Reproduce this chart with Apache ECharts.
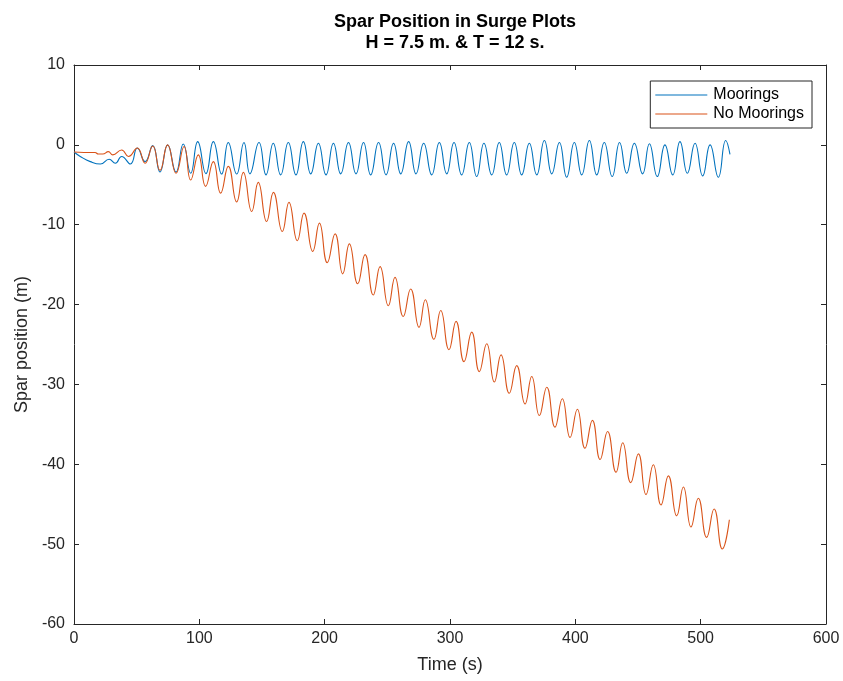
<!DOCTYPE html>
<html>
<head>
<meta charset="utf-8">
<script src="https://cdn.jsdelivr.net/npm/echarts@6/dist/echarts.min.js"></script>
<style>
  html, body { margin: 0; padding: 0; background: #fff; }
  #chart { width: 843px; height: 681px; }
</style>
</head>
<body>
<div id="chart"></div>
<script>
// Surge response of the spar: [time (s), position (m)] at the turning points of each swing.
const mooringsSeries = [
  [0, -0.9], [5, -1.45], [13, -2.1], [21, -2.4], [28, -1.8], [33, -2.3], [38, -1.45], [45, -2.4],
  [50.5, -0.4], [56.7, -2.1], [62.8, -0.1], [68.6, -3.4], [74.7, 0.0], [81.4, -3.4], [87.2, 0.1],
  [93.1, -3.55], [98.7, 0.4], [105.3, -3.6], [111.2, 0.4], [117.8, -3.65], [123.1, 0.3], [129.8, -3.65],
  [135.6, 0.29], [140.4, -3.63], [147.6, 0.29], [153.2, -3.76], [159, 0.21], [164.9, -3.76],
  [171, 0.29], [177.1, -3.76], [183, 0.41], [188.9, -3.63], [195, 0.21], [201.1, -3.76],
  [207, 0.21], [212.8, -3.63], [219, 0.29], [225, -3.63], [231, 0.29], [236.7, -3.76],
  [243, 0.29], [249, -3.76], [255, 0.21], [260.7, -3.63], [267, 0.41], [272.9, -3.63],
  [279, 0.21], [285.4, -3.76], [291.5, 0.29], [297.4, -3.63], [303.2, 0.29], [309.3, -3.76],
  [315.4, 0.29], [321.3, -3.97], [327.1, 0.21], [333.3, -3.76], [339.3, 0.29], [345.2, -3.76],
  [351.3, 0.29], [357.2, -3.76], [363.3, 0.21], [369.2, -3.76], [375.3, 0.54], [381.2, -3.63],
  [387.3, 0.29], [393.1, -4.05], [399.2, 0.29], [405.1, -3.76], [411.2, 0.54], [417.1, -3.76],
  [423.1, 0.29], [429.4, -3.97], [435.3, 0.29], [441, -3.55], [447.1, 0.21], [453.7, -3.63],
  [459.1, 0.13], [465.4, -3.97], [471.5, 0.0], [477.7, -3.76], [483.5, 0.41], [489.4, -3.55],
  [495.5, 0.21], [501.6, -3.88], [507.5, 0.0], [514.1, -4.05], [520, 0.54], [523.4, -1.2]
];

const noMooringsSeries = [
  [0, -0.9], [8, -0.95], [16.8, -0.95], [19.4, -1.15], [23, -1.15], [27.4, -0.85], [30.9, -1.25],
  [38, -0.65], [43.4, -1.45], [50.5, -0.4], [56.7, -2.3], [62.8, -0.15], [68.6, -3.2], [74.7, 0.0],
  [81.4, -3.55], [87.8, -0.2], [93.1, -4.4], [99.2, -1.25], [105, -5.2], [111.2, -2.1], [117, -6.05],
  [123.1, -2.7], [129.8, -7.15], [135.1, -3.45], [141.8, -8.35], [147, -4.7], [153.7, -9.6],
  [159.1, -5.95], [166.2, -10.85], [171.5, -7.2], [178.2, -12.0], [183.5, -8.55], [190.5, -13.35],
  [195.8, -9.8], [202.1, -14.75], [208.3, -11.15], [214.4, -16.15], [219.7, -12.4], [226.4, -17.4],
  [232.2, -13.75], [238.8, -18.8], [244.2, -15.25], [250.8, -20.15], [256.1, -16.6], [262.7, -21.5],
  [268.6, -18.05], [275.3, -22.85], [280.3, -19.4], [287.2, -24.35], [292.6, -20.75], [299.2, -25.65],
  [304.8, -22.1], [311.2, -27.15], [317.3, -23.45], [323.4, -28.4], [329.3, -24.9], [335.4, -29.7],
  [340.7, -26.3], [347.3, -31.1], [353.2, -27.65], [359.9, -32.45], [365.2, -29.0], [371.3, -33.9],
  [377.2, -30.35], [383.8, -35.35], [389.6, -31.8], [395.8, -36.65], [401.6, -33.1], [407.7, -38.0],
  [413.6, -34.5], [419.8, -39.4], [425.7, -35.9], [432.5, -41.0], [437.8, -37.3], [444.2, -42.3],
  [450.3, -38.7], [456.4, -43.8], [462.2, -40.05], [468.4, -45.1], [474.2, -41.45], [480.9, -46.45],
  [486.2, -42.85], [492.3, -47.85], [498.1, -44.25], [504.8, -49.15], [510.7, -45.6], [517.3, -50.6],
  [522.9, -46.95]
];

const seriesNames = ['Moorings', 'No Moorings'];
const seriesColors = ['#0072BD', '#D95319'];
const xTicks = { min: 0, max: 600, step: 100 };
const yTicks = { min: -60, max: 10, step: 10 };

const axisColor = '#262626';
const font = 'Liberation Sans, Arial, Helvetica, sans-serif';

const chart = echarts.init(document.getElementById('chart'), null, { renderer: 'canvas' });

const baseAxis = {
  axisLine: { show: true, onZero: false, lineStyle: { color: axisColor, width: 1 } },
  axisTick: { show: true, inside: true, length: 5, lineStyle: { color: axisColor, width: 1 } },
  splitLine: { show: false },
  axisLabel: { color: axisColor, fontSize: 16, fontFamily: font }
};

chart.setOption({
  animation: false,
  backgroundColor: '#ffffff',
  title: {
    text: 'Spar Position in Surge Plots\nH = 7.5 m. & T = 12 s.',
    left: 450,
    textAlign: 'center',
    top: 7,
    textStyle: { fontFamily: font, fontSize: 18, fontWeight: 'bold', color: '#000', lineHeight: 21 }
  },
  legend: {
    data: seriesNames,
    orient: 'vertical',
    right: 31,
    top: 81,
    icon: 'rect',
    itemWidth: 52,
    itemHeight: 1.2,
    itemGap: 3,
    padding: [6, 8, 6, 5],
    backgroundColor: '#ffffff',
    borderColor: axisColor,
    borderWidth: 1,
    textStyle: { fontFamily: font, fontSize: 16, color: '#000', padding: [0, 0, 0, 1] }
  },
  grid: { left: 74, right: 17, top: 65, bottom: 57, containLabel: false },
  xAxis: [
    Object.assign({}, baseAxis, {
      type: 'value', position: 'bottom',
      min: xTicks.min, max: xTicks.max, interval: xTicks.step,
      name: 'Time (s)', nameLocation: 'middle', nameGap: 32,
      nameTextStyle: { fontFamily: font, fontSize: 18, color: axisColor },
      axisLabel: Object.assign({}, baseAxis.axisLabel, { margin: 7 })
    }),
    Object.assign({}, baseAxis, {
      type: 'value', position: 'top',
      min: xTicks.min, max: xTicks.max, interval: xTicks.step,
      axisLabel: { show: false }
    })
  ],
  yAxis: [
    Object.assign({}, baseAxis, {
      type: 'value', position: 'left',
      min: yTicks.min, max: yTicks.max, interval: yTicks.step,
      name: 'Spar position (m)', nameLocation: 'middle', nameGap: 42, nameRotate: 90,
      nameTextStyle: { fontFamily: font, fontSize: 18, color: axisColor },
      axisLabel: Object.assign({}, baseAxis.axisLabel, { margin: 9 })
    }),
    Object.assign({}, baseAxis, {
      type: 'value', position: 'right',
      min: yTicks.min, max: yTicks.max, interval: yTicks.step,
      axisLabel: { show: false }
    })
  ],
  series: [
    {
      name: seriesNames[0], type: 'line', data: mooringsSeries,
      xAxisIndex: 0, yAxisIndex: 0,
      showSymbol: false, symbol: 'none', smooth: 0.5,
      lineStyle: { color: seriesColors[0], width: 1.1 },
      itemStyle: { color: seriesColors[0] }
    },
    {
      name: seriesNames[1], type: 'line', data: noMooringsSeries,
      xAxisIndex: 0, yAxisIndex: 0,
      showSymbol: false, symbol: 'none', smooth: 0.5,
      lineStyle: { color: seriesColors[1], width: 1.1 },
      itemStyle: { color: seriesColors[1] }
    }
  ]
});
</script>
</body>
</html>
